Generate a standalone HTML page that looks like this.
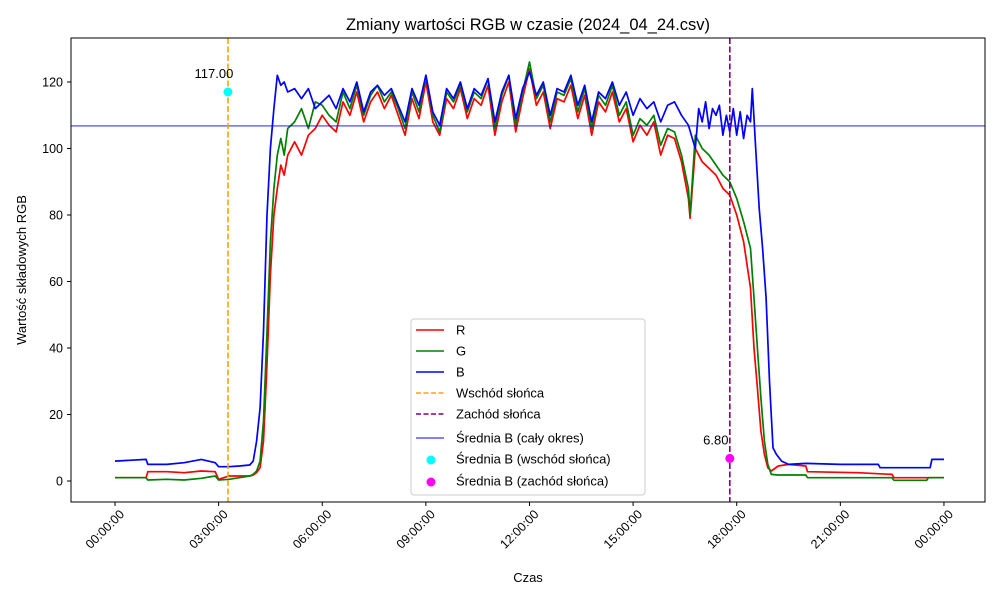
<!DOCTYPE html>
<html><head><meta charset="utf-8"><style>
body{margin:0;background:#fff;}
svg text{font-family:"Liberation Sans","DejaVu Sans",sans-serif;}
</style></head><body>
<svg id="chart" width="1000" height="600" xmlns="http://www.w3.org/2000/svg">
<rect x="0" y="0" width="1000" height="600" fill="#fff"/>
<text x="528" y="30" font-size="16.5" text-anchor="middle">Zmiany wartości RGB w czasie (2024_04_24.csv)</text>
<text transform="translate(26,270) rotate(-90)" font-size="13" text-anchor="middle">Wartość składowych RGB</text>
<text x="528" y="582" font-size="13" text-anchor="middle">Czas</text>
<g id="plot"></g>
<rect x="71" y="38" width="914" height="464" fill="none" stroke="#000" stroke-width="1"/>
</svg>
<script>
const xTickHours=[0,3,6,9,12,15,18,21,24];
const xTickLabels=["00:00:00","03:00:00","06:00:00","09:00:00","12:00:00","15:00:00","18:00:00","21:00:00","00:00:00"];
const yTicks=[0,20,40,60,80,100,120];
const dayTimes=[6.2,6.4,6.6,6.8,7.0,7.2,7.4,7.6,7.8,8.0,8.2,8.4,8.6,8.8,9.0,9.2,9.4,9.6,9.8,10.0,10.2,10.4,10.6,10.8,11.0,11.2,11.4,11.6,11.8,12.0,12.2,12.4,12.6,12.8,13.0,13.2,13.4,13.6,13.8,14.0,14.2,14.4,14.6,14.8,15.0,15.2,15.4,15.6,15.8,16.0];
const bDay=[116,112,118,114,120,111,117,119,116,118,113,108,118,113,122,111,107,118,115,120,112,118,116,121,108,117,122,109,118,123,116,120,110,118,117,122,113,119,108,117,115,120,113,117,110,115,112,114,108,113];
const gDay=[110,108,117,112,119,110,116,119,114,117,112,106,117,111,122,110,105,117,114,119,111,117,115,121,106,116,122,107,117,126,115,119,108,117,116,121,111,118,106,116,113,119,110,114,104,109,107,110,101,106];
const rDay=[107,105,114,110,117,108,114,117,112,116,110,104,115,109,120,108,104,115,112,118,109,115,113,119,104,114,120,105,115,124,113,117,106,115,114,119,109,116,104,114,111,117,108,112,102,107,104,108,98,104];
const bTimesPre=[0,0.9,0.95,1.5,2.0,2.5,2.9,3.0,3.3,3.6,3.9,4.0,4.1,4.2,4.3,4.4,4.5,4.6,4.7,4.8,4.9,5.0,5.2,5.4,5.6,5.8,6.0];
const bValuesPre=[6,6.5,5,5,5.5,6.5,5.5,4.3,4.3,4.5,4.8,6,12,22,45,80,100,112,122,119,120,117,118,115,118,112,114];
const gValuesPre=[1,1,0.3,0.5,0.3,0.8,1.5,0.3,0.5,1,1.5,2,3,6,18,45,72,88,98,103,98,106,108,112,106,114,113];
const rValuesPre=[1,1,2.8,2.8,2.5,3,2.8,0.5,1.5,1.5,1.5,1.8,2.5,4,12,35,62,80,88,95,92,98,102,98,104,106,110];
const bTimesPost=[16.2,16.4,16.6,16.8,16.9,17.0,17.1,17.2,17.3,17.4,17.5,17.6,17.7,17.8,17.9,18.0,18.1,18.2,18.3,18.4,18.45,18.55,18.65,18.75,18.85,18.95,19.05,19.15,19.3,19.5,20.0,21.0,22.1,22.15,23.6,23.65,24.0];
const bValuesPost=[114,110,107,100,112,108,114,106,112,110,113,104,110,105,112,104,111,103,110,108,118,100,82,70,55,30,10,8,6,5,5.3,5,5,4,4,6.5,6.5];
const gTimesPost=[16.2,16.4,16.6,16.65,16.8,17.0,17.2,17.4,17.6,17.8,18.0,18.2,18.4,18.5,18.6,18.7,18.8,18.9,19.0,19.2,20.0,20.05,22.5,22.55,23.5,23.55,24.0];
const gValuesPost=[105,98,88,80,104,100,98,95,92,90,85,78,70,55,40,25,12,5,2,1.8,1.8,1,1,0.2,0.2,1,1];
const rTimesPost=[16.2,16.4,16.6,16.65,16.8,17.0,17.2,17.4,17.6,17.8,18.0,18.2,18.4,18.5,18.6,18.7,18.8,18.9,19.0,19.2,19.5,20.0,20.05,21.5,22.5,22.55,24.0];
const rValuesPost=[103,96,85,79,100,96,94,92,88,86,80,72,58,40,28,15,8,4,3,4.5,5,4.5,2.8,2.5,2,1,1];
const sunriseHour=3.27, sunsetHour=17.8, meanB=106.8, sunriseB=117.0, sunsetB=6.8;

const X0=115, XW=34.54, Y0=481, YK=3.325;
const xs=h=>X0+h*XW, ys=v=>Y0-v*YK;
const NS="http://www.w3.org/2000/svg";
const svg=document.getElementById('chart'), plot=document.getElementById('plot');
function mk(tag,attrs,parent){const e=document.createElementNS(NS,tag);for(const k in attrs)e.setAttribute(k,attrs[k]);(parent||plot).appendChild(e);return e;}

xTickHours.forEach((h,i)=>{
  const x=xs(h);
  const t=mk('line',{x1:x,x2:x,y1:502,y2:506,stroke:'#000'});
  
  
  const l=mk('text',{transform:`translate(${x+10},${515}) rotate(-45)`,'font-size':12.5,'text-anchor':'end'});
  l.textContent=xTickLabels[i];
  
  
});
yTicks.forEach(v=>{
  const y=ys(v);
  const t=mk('line',{x1:67,x2:71,y1:y,y2:y,stroke:'#000'});
  
  
  const l=mk('text',{x:63,y:y+4.5,'font-size':12.5,'text-anchor':'end'});
  l.textContent=v;
  
  
});

function series(ts,vs,color,name){
  const pts=ts.map((t,i)=>xs(t).toFixed(1)+','+ys(vs[i]).toFixed(1)).join(' ');
  const p=mk('polyline',{points:pts,fill:'none',stroke:color,'stroke-width':1.7,'stroke-linejoin':'round'});
  
  
}
series(bTimesPre.concat(dayTimes,rTimesPost),rValuesPre.concat(rDay,rValuesPost),'#ff0000','series-r');
series(bTimesPre.concat(dayTimes,gTimesPost),gValuesPre.concat(gDay,gValuesPost),'#008000','series-g');
series(bTimesPre.concat(dayTimes,bTimesPost),bValuesPre.concat(bDay,bValuesPost),'#0000ff','series-b');

const mb=mk('line',{x1:71,x2:985,y1:ys(meanB),y2:ys(meanB),stroke:'#0000ff','stroke-width':0.9});


const sr=mk('line',{x1:xs(sunriseHour),x2:xs(sunriseHour),y1:38,y2:502,stroke:'#ffa500','stroke-width':1.6,'stroke-dasharray':'6,2.5'});


const ss=mk('line',{x1:xs(sunsetHour),x2:xs(sunsetHour),y1:38,y2:502,stroke:'#800080','stroke-width':1.6,'stroke-dasharray':'6,2.5'});


const d1=mk('circle',{cx:xs(sunriseHour),cy:ys(sunriseB),r:4.5,fill:'#00ffff'});


const a1=mk('text',{x:xs(sunriseHour)-14,y:ys(sunriseB)-14,'font-size':13,'text-anchor':'middle'});
a1.textContent=sunriseB.toFixed(2);


const d2=mk('circle',{cx:xs(sunsetHour),cy:ys(sunsetB),r:4.5,fill:'#ff00ff'});


const a2=mk('text',{x:xs(sunsetHour)-14,y:ys(sunsetB)-14,'font-size':13,'text-anchor':'middle'});
a2.textContent=sunsetB.toFixed(2);



const lg=mk('g',{});


mk('rect',{x:411,y:319,width:234,height:176,rx:3,fill:'#fff','fill-opacity':0.85,stroke:'#ccc'},lg);
const legendLabels=["R","G","B","Wschód słońca","Zachód słońca","Średnia B (cały okres)","Średnia B (wschód słońca)","Średnia B (zachód słońca)"];
const legendColors=['#ff0000','#008000','#0000ff','#ffa500','#800080','#0000ff','#00ffff','#ff00ff'];
const legendY=[330,351,372,393,414,438,459,481];
legendLabels.forEach((lab,i)=>{
  const y=legendY[i];
  if(i<6){
    const l=mk('line',{x1:416,x2:444,y1:y,y2:y,stroke:legendColors[i],'stroke-width':i==5?0.9:1.6},lg);
    if(i==3||i==4)l.setAttribute('stroke-dasharray','5,2.5');
  } else mk('circle',{cx:431,cy:y+1,r:4.5,fill:legendColors[i]},lg);
  const t=mk('text',{x:456,y:y+4.5,'font-size':13},lg);
  t.textContent=lab;
  
  
});
</script>
</body></html>
